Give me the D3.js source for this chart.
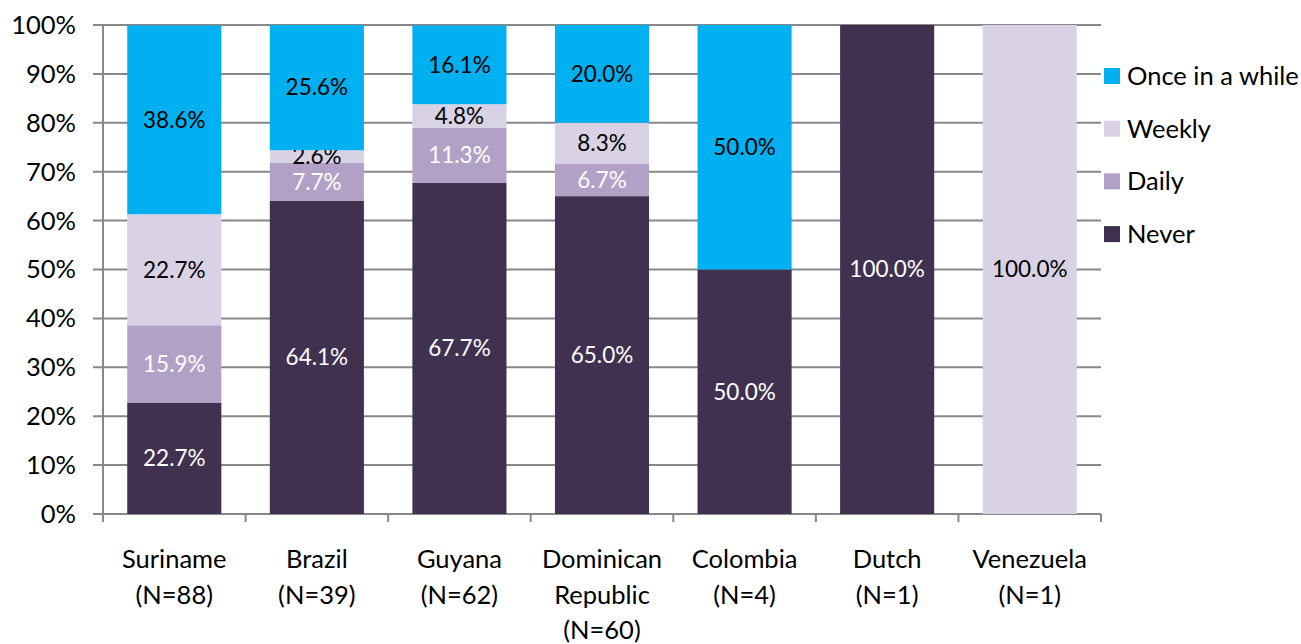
<!DOCTYPE html>
<html>
<head>
<meta charset="utf-8">
<script src="https://cdn.jsdelivr.net/npm/d3@7"></script>
<style>
  body { margin: 0; background: #fff; }
  text { font-family: Lato, "Open Sans", sans-serif; }
</style>
</head>
<body>
<div id="chart"><svg width="1301" height="644"></svg></div>
<script>
// datos
var paises = [["Suriname", "(N=88)"], ["Brazil", "(N=39)"], ["Guyana", "(N=62)"],
              ["Dominican", "Republic", "(N=60)"], ["Colombia", "(N=4)"], ["Dutch", "(N=1)"], ["Venezuela", "(N=1)"]];
var series = ["Never", "Daily", "Weekly", "Once in a while"];
var never  = [22.7, 64.1, 67.7, 65.0, 50.0, 100.0, 0];
var daily  = [15.9, 7.7, 11.3, 6.7, 0, 0, 0];
var weekly = [22.7, 2.6, 4.8, 8.3, 0, 0, 100.0];
var once   = [38.6, 25.6, 16.1, 20.0, 50.0, 0, 0];
var yTicks = [0, 10, 20, 30, 40, 50, 60, 70, 80, 90, 100];

var colores = { "Never": "#403151", "Daily": "#b2a1c7", "Weekly": "#d9d1e4", "Once in a while": "#00b0f0" };
var colorTexto = { "Never": "#fff", "Daily": "#fff", "Weekly": "#000", "Once in a while": "#000" };

const MARGIN = { TOP: 25, BOTTOM: 130, LEFT: 103, RIGHT: 200 };
var width = 1301 - MARGIN.LEFT - MARGIN.RIGHT;
var height = 644 - MARGIN.TOP - MARGIN.BOTTOM;

var svg = d3.select("#chart").select("svg")
    .append("g")
    .attr("transform", "translate(" + MARGIN.LEFT + "," + MARGIN.TOP + ")");

var nombres = paises.map(function(p) { return p.join(" "); });

var x = d3.scaleBand()
    .range([0, width])
    .domain(nombres)
    .paddingInner(0.34)
    .paddingOuter(0.17);

var y = d3.scaleLinear()
    .range([height, 0])
    .domain([0, 100]);

// grilla
svg.append("g")
    .selectAll("line")
    .data(yTicks)
    .enter()
    .append("line")
    .attr("x1", -10)
    .attr("x2", width)
    .attr("y1", function(d) { return y(d); })
    .attr("y2", function(d) { return y(d); })
    .attr("stroke", "#888")
    .attr("stroke-width", 2);

svg.append("line")
    .attr("x1", 0).attr("x2", 0)
    .attr("y1", 0).attr("y2", height + 8)
    .attr("stroke", "#888").attr("stroke-width", 2);

// ticks del eje x (entre categorias)
var step = x.step();
svg.append("g")
    .selectAll("line")
    .data(d3.range(nombres.length + 1))
    .enter()
    .append("line")
    .attr("x1", function(i) { return i * step; })
    .attr("x2", function(i) { return i * step; })
    .attr("y1", height)
    .attr("y2", height + 8)
    .attr("stroke", "#888")
    .attr("stroke-width", 2);

svg.append("g")
    .selectAll("text")
    .data(yTicks)
    .enter()
    .append("text")
    .attr("x", -27)
    .attr("y", function(d) { return y(d); })
    .attr("dy", "0.35em")
    .attr("text-anchor", "end")
    .attr("font-size", 25.5)
    .text(function(d) { return d + "%"; });

// apilar
var tabla = nombres.map(function(n, i) {
    return { pais: n, "Never": never[i], "Daily": daily[i], "Weekly": weekly[i], "Once in a while": once[i] };
});
var stack = d3.stack().keys(series)(tabla);

var capas = svg.selectAll(".capa")
    .data(stack)
    .enter()
    .append("g")
    .attr("class", "capa");

capas.selectAll("rect")
    .data(function(d) { return d.map(function(v) { return { key: d.key, v: v }; }); })
    .enter()
    .append("rect")
    .attr("x", function(d) { return x(d.v.data.pais); })
    .attr("y", function(d) { return y(d.v[1]); })
    .attr("width", x.bandwidth())
    .attr("height", function(d) { return y(d.v[0]) - y(d.v[1]); })
    .style("fill", function(d) { return colores[d.key]; });

capas.selectAll("text")
    .data(function(d) { return d.map(function(v) { return { key: d.key, v: v }; }).filter(function(e) { return e.v[1] - e.v[0] > 0; }); })
    .enter()
    .append("text")
    .attr("x", function(d) { return x(d.v.data.pais) + x.bandwidth() / 2; })
    .attr("y", function(d) { return y((d.v[0] + d.v[1]) / 2); })
    .attr("dy", "0.35em")
    .attr("text-anchor", "middle")
    .attr("font-size", 22.5)
    .attr("fill", function(d) { return colorTexto[d.key]; })
    .text(function(d) { return (d.v[1] - d.v[0]).toFixed(1) + "%"; });

// etiquetas del eje x
svg.append("g")
    .selectAll("text")
    .data(paises)
    .enter()
    .append("text")
    .attr("x", function(d, i) { return x(nombres[i]) + x.bandwidth() / 2; })
    .attr("y", height + 54)
    .attr("text-anchor", "middle")
    .attr("font-size", 25.5)
    .each(function(d) {
        var t = d3.select(this);
        d.forEach(function(linea, j) {
            t.append("tspan")
                .attr("x", t.attr("x"))
                .attr("dy", j === 0 ? 0 : 35.5)
                .text(linea);
        });
    });

// leyenda
var leyenda = svg.append("g")
    .attr("transform", "translate(" + (width + 3) + ",0)");
var orden = ["Once in a while", "Weekly", "Daily", "Never"];
orden.forEach(function(s, i) {
    var g = leyenda.append("g").attr("transform", "translate(0," + (51 + i * 52.7) + ")");
    g.append("rect").attr("x", 0).attr("y", -8).attr("width", 16).attr("height", 16).style("fill", colores[s]);
    g.append("text").attr("x", 23).attr("y", 0).attr("dy", "0.35em").attr("font-size", 25.5).text(s);
});
</script>
</body>
</html>
